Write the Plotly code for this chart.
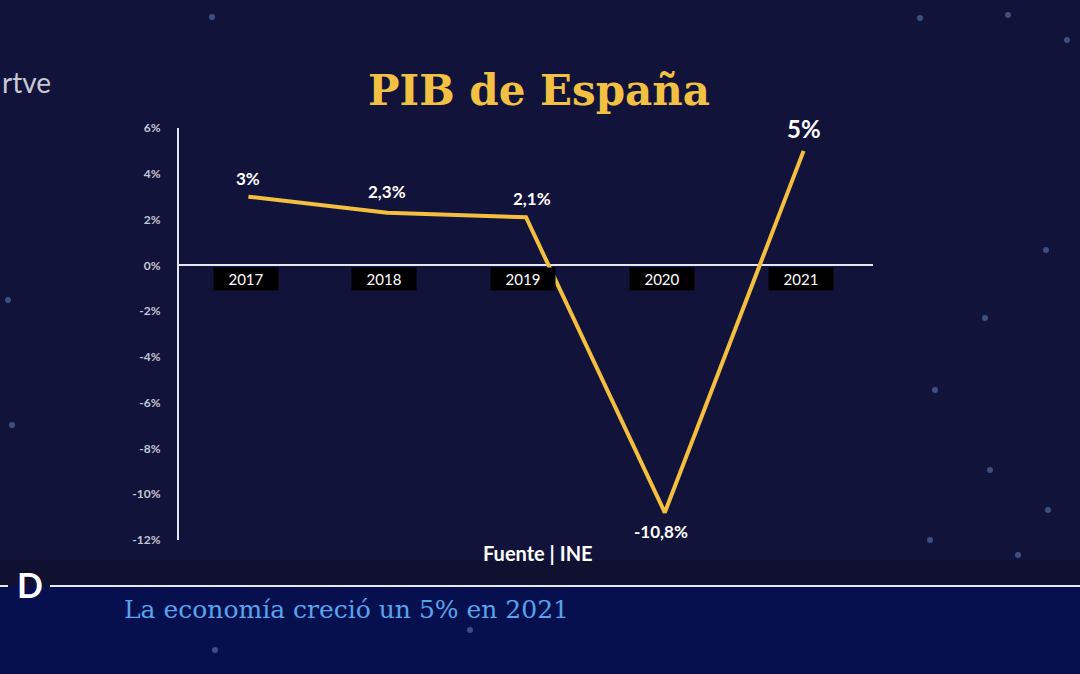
import plotly.graph_objects as go

years = ["2017", "2018", "2019", "2020", "2021"]
pib = [3.0, 2.3, 2.1, -10.8, 5.0]
value_labels = ["3%", "2,3%", "2,1%", "-10,8%", "5%"]
y_ticks = [6, 4, 2, 0, -2, -4, -6, -8, -10, -12]
y_tick_text = ["6%", "4%", "2%", "0%", "-2%", "-4%", "-6%", "-8%", "-10%", "-12%"]

W, H = 1080, 674
L, R, T, B = 179, 873, 128, 540
BG = "#12133a"
BAND = "#06104f"
GOLD = "#f4bf3e"


def px(x):
    return (x - L) / (R - L)


def py(y):
    return (B - y) / (B - T)


fig = go.Figure()
fig.add_trace(go.Scatter(
    x=list(range(len(years))), y=pib, mode="lines",
    line=dict(color=GOLD, width=4), hoverinfo="skip", showlegend=False,
))

ann = []
for i, yr in enumerate(years):
    ann.append(dict(x=i - 0.02, y=0, xref="x", yref="y", text=yr, showarrow=False,
                    yanchor="top", yshift=-2, bgcolor="#000000", width=62, height=20,
                    font=dict(family="Lato", size=15, color="#ffffff")))
offsets = [(0, 18), (0, 21), (6, 19), (-4, -19), (0, 19)]
for i, (lab, (dx, dy)) in enumerate(zip(value_labels, offsets)):
    big = lab == "5%"
    ann.append(dict(x=i, y=pib[i], xref="x", yref="y", text="<b>%s</b>" % lab, showarrow=False,
                    xshift=dx, yshift=dy + (3 if big else 0),
                    font=dict(family="Lato", size=24 if big else 17, color="#ffffff")))
ann.append(dict(x=px(539), y=py(90), xref="paper", yref="paper", text="<b>PIB de España</b>",
                showarrow=False, xanchor="center", yanchor="middle",
                font=dict(family="DejaVu Serif", size=42, color="#f2c144")))
ann.append(dict(x=px(538), y=py(553), xref="paper", yref="paper", text="<b>Fuente | INE</b>",
                showarrow=False, xanchor="center", yanchor="middle",
                font=dict(family="Lato", size=20, color="#ffffff")))
ann.append(dict(x=px(0), y=py(82), xref="paper", yref="paper", text="rtve",
                showarrow=False, xanchor="left", yanchor="middle",
                font=dict(family="Lato", size=28, color="#c9c9d6")))
ann.append(dict(x=px(122), y=py(609), xref="paper", yref="paper",
                text="La economía creció un 5% en 2021",
                showarrow=False, xanchor="left", yanchor="middle",
                font=dict(family="DejaVu Serif", size=25, color="#5aa3ee")))
ann.append(dict(x=px(30), y=py(584), xref="paper", yref="paper", text="<b>D</b>",
                showarrow=False, xanchor="center", yanchor="middle",
                font=dict(family="Lato", size=34, color="#ffffff")))

shapes = [
    dict(type="rect", xref="paper", yref="paper", x0=px(0), x1=px(W), y0=py(H), y1=py(586),
         fillcolor=BAND, line=dict(width=0), layer="below"),
    dict(type="rect", xref="paper", yref="paper", x0=px(0), x1=px(W), y0=py(586), y1=py(560),
         fillcolor="#101130", line=dict(width=0), layer="below"),
    dict(type="line", xref="paper", yref="paper", x0=px(50), x1=px(W), y0=py(586), y1=py(586),
         line=dict(color="#e8e8f5", width=2)),
    dict(type="line", xref="paper", yref="paper", x0=px(0), x1=px(8), y0=py(586), y1=py(586),
         line=dict(color="#e8e8f5", width=2)),
]
stars = [(920, 18), (1008, 15), (1067, 40), (212, 17), (1046, 250), (1048, 510), (1018, 555),
         (985, 318), (935, 390), (8, 300), (12, 425), (990, 470), (930, 540), (215, 650), (470, 630)]
for sx, sy in stars:
    r = 3
    shapes.append(dict(type="circle", xref="paper", yref="paper",
                       x0=px(sx - r), x1=px(sx + r), y0=py(sy + r), y1=py(sy - r),
                       fillcolor="rgba(120,150,220,0.45)", line=dict(width=0), layer="below"))

fig.update_layout(
    width=W, height=H,
    paper_bgcolor=BG, plot_bgcolor="rgba(0,0,0,0)",
    margin=dict(l=L, r=W - R, t=T, b=H - B, pad=0),
    xaxis=dict(range=[-0.5, 4.5], visible=False, fixedrange=True),
    yaxis=dict(range=[-12, 6], tickmode="array", tickvals=y_ticks,
               ticktext=["<b>%s</b>" % t for t in y_tick_text],
               showgrid=False, showline=True, linecolor="#e6e6f0", linewidth=2,
               zeroline=True, zerolinecolor="#e6e6f0", zerolinewidth=2,
               ticks="", ticklabelstandoff=14,
               tickfont=dict(family="Lato", size=12, color="#c6c6d4")),
    annotations=ann, shapes=shapes,
)
fig.write_html("out.html")
